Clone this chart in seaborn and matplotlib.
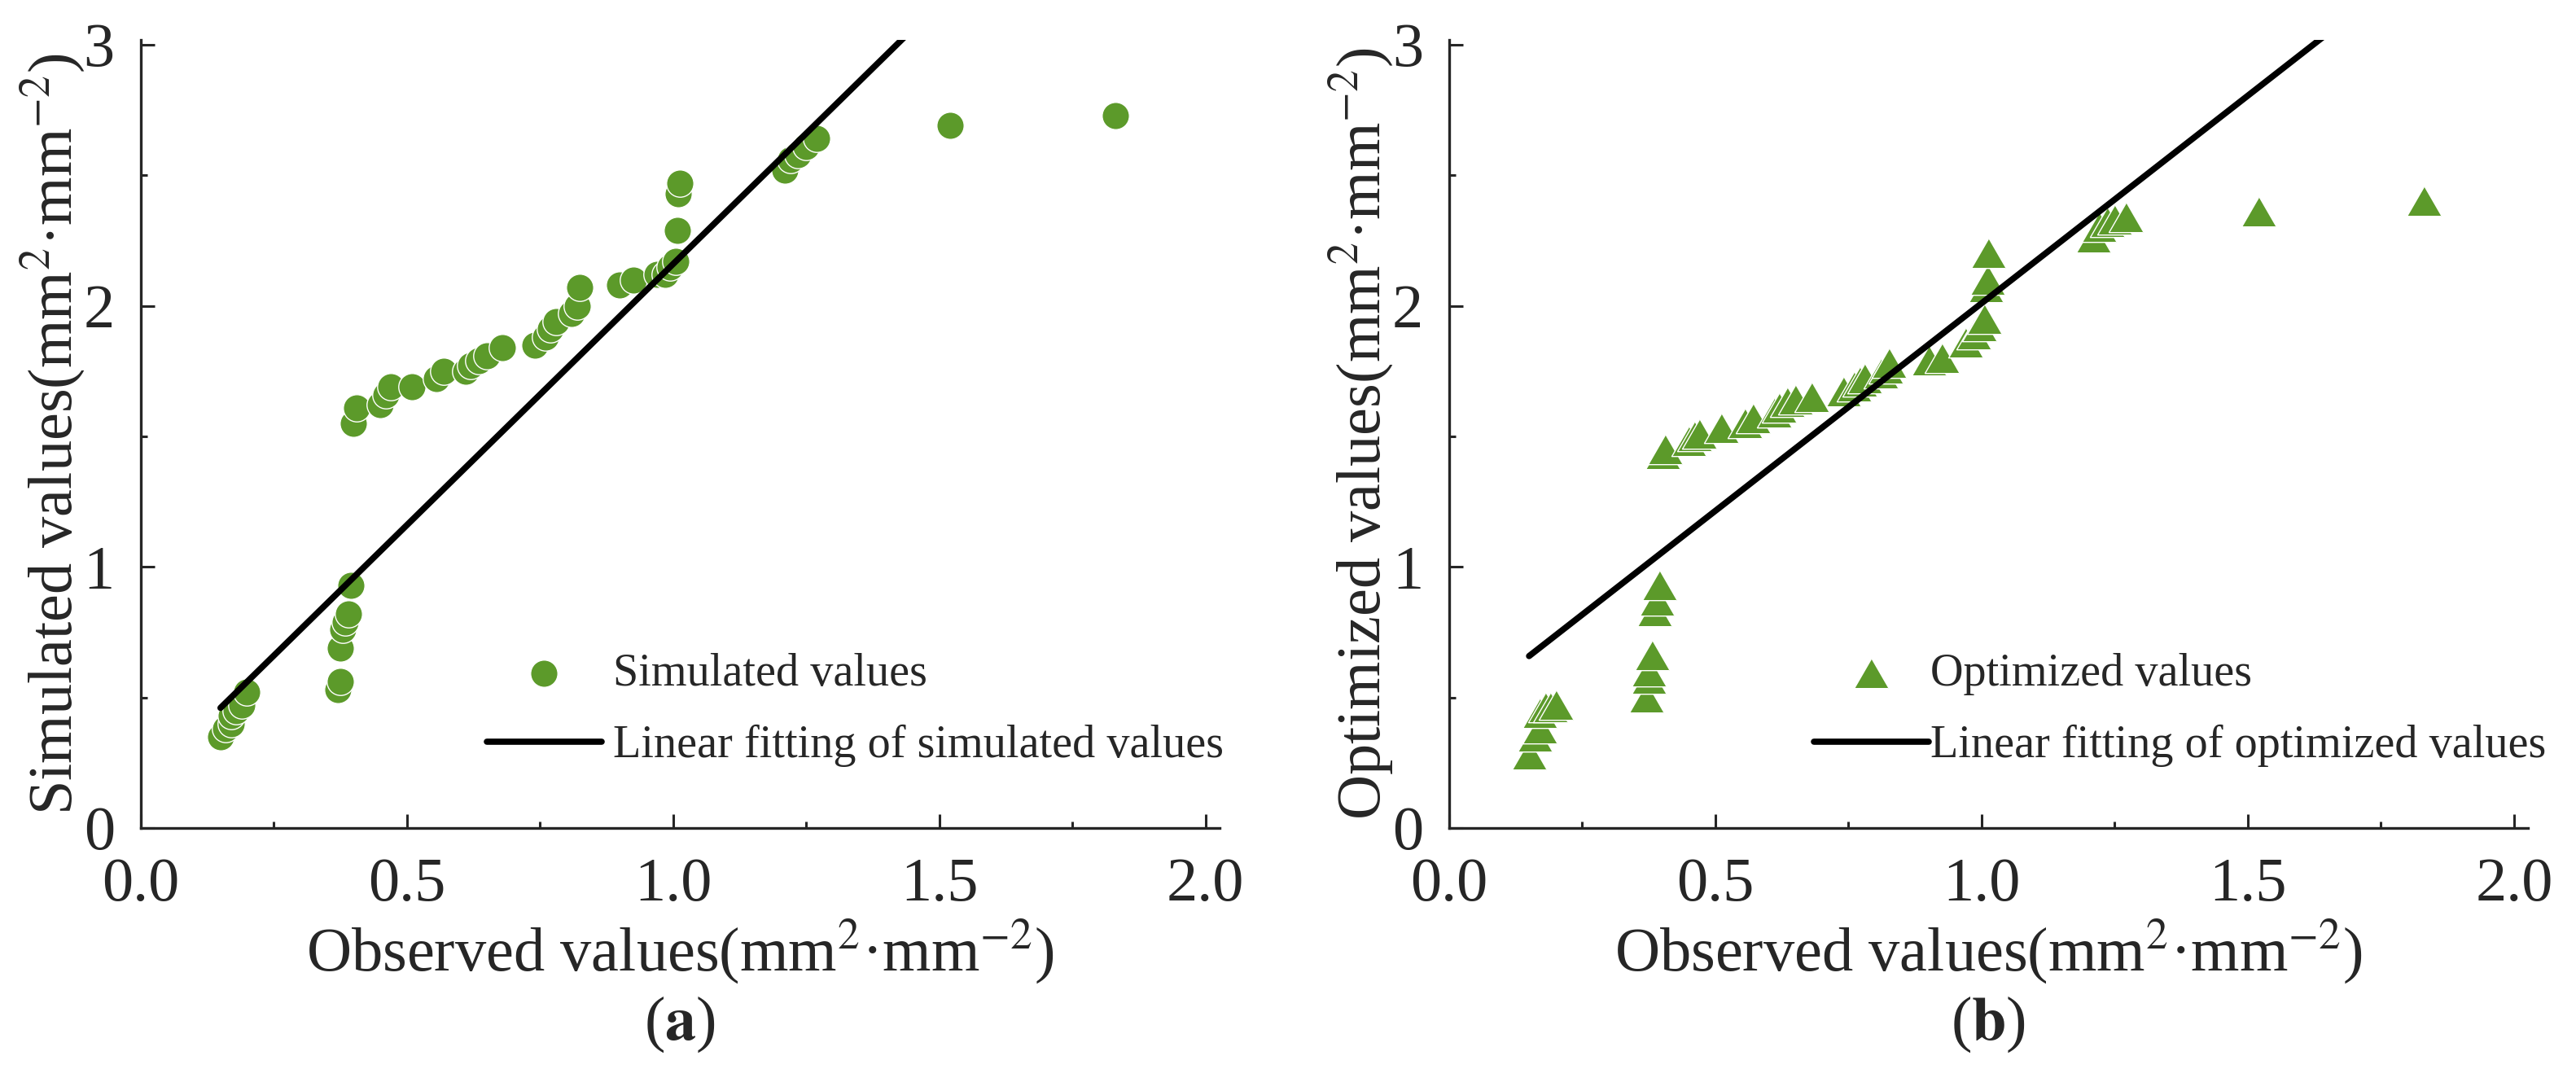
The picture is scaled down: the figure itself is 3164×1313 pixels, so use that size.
import matplotlib
matplotlib.use('Agg')
import matplotlib.pyplot as plt
from matplotlib.ticker import MultipleLocator, FormatStrFormatter
import numpy as np
import pandas as pd
import seaborn as sns

# observed values shared by both panels
observed = [0.15, 0.16, 0.17, 0.17, 0.18, 0.19, 0.20,
            0.37, 0.375, 0.375, 0.38, 0.385, 0.39, 0.395,
            0.40, 0.405, 0.45, 0.46, 0.47, 0.51, 0.555, 0.57, 0.61, 0.62, 0.635, 0.65, 0.68,
            0.74, 0.76, 0.77, 0.78, 0.81, 0.82, 0.825,
            0.90, 0.925, 0.97, 0.985, 0.995, 1.005, 1.008, 1.01, 1.012,
            1.21, 1.22, 1.235, 1.25, 1.27, 1.52, 1.83]

simulated = [0.35, 0.38, 0.40, 0.43, 0.45, 0.47, 0.52,
             0.53, 0.56, 0.69, 0.76, 0.79, 0.82, 0.93,
             1.55, 1.61, 1.62, 1.66, 1.69, 1.69, 1.72, 1.75, 1.75, 1.77, 1.79, 1.81, 1.84,
             1.85, 1.88, 1.91, 1.94, 1.97, 2.00, 2.07,
             2.08, 2.10, 2.12, 2.12, 2.15, 2.17, 2.29, 2.43, 2.47,
             2.52, 2.56, 2.58, 2.61, 2.64, 2.69, 2.73]

optimized = [0.28, 0.35, 0.38, 0.44, 0.46, 0.46, 0.47,
             0.50, 0.57, 0.60, 0.66, 0.83, 0.87, 0.93,
             1.43, 1.45, 1.48, 1.50, 1.51, 1.53, 1.55, 1.57, 1.59, 1.61, 1.63, 1.64, 1.65,
             1.67, 1.69, 1.71, 1.72, 1.74, 1.76, 1.78,
             1.79, 1.80, 1.86, 1.89, 1.92, 1.95, 2.07, 2.10, 2.20,
             2.26, 2.30, 2.32, 2.33, 2.34, 2.36, 2.40]

# linear fits (slope, intercept)
fit_sim = (2.00, 0.16)
fit_opt = (1.59, 0.42)

x_ticks = [0.0, 0.5, 1.0, 1.5, 2.0]
y_ticks = [0, 1, 2, 3]

df = pd.DataFrame({'obs': observed, 'sim': simulated, 'opt': optimized})

sns.set_style('ticks')
plt.rcParams['font.family'] = ['Liberation Serif', 'DejaVu Serif']
plt.rcParams['mathtext.fontset'] = 'stix'
plt.rcParams['axes.linewidth'] = 2.4

green = '#5c9a2a'
W, H = 3164, 1313
fig = plt.figure(figsize=(W / 100, H / 100), dpi=100)

ax_w = 1325 / W
ax_h = 968.5 / H
ax_y0 = 1 - 1017 / H
ax1 = fig.add_axes([172.7 / W, ax_y0, ax_w, ax_h])
ax2 = fig.add_axes([1780 / W, ax_y0, ax_w, ax_h])

tri = [(0, 0.75), (-0.866, -0.75), (0.866, -0.75)]

panels = [
    (ax1, 'sim', fit_sim, 'o', 580, 'Simulated values', 'Linear fitting of simulated values',
     'Simulated values(mm$^{2}$·mm$^{-2}$)', r'($\mathbf{a}$)', 598, 0.26),
    (ax2, 'opt', fit_opt, tri, 915, 'Optimized values', 'Linear fitting of optimized values',
     'Optimized values(mm$^{2}$·mm$^{-2}$)', r'($\mathbf{b}$)', 2228, 0.05),
]

for ax, col, fit, mk, size, lab_pts, lab_fit, ylab, tag, leg_x, tpad in panels:
    sns.scatterplot(data=df, x='obs', y=col, ax=ax, color=green, marker=mk, s=size,
                    edgecolor='white', linewidth=1.0, label=lab_pts, zorder=2)
    fx = np.array([min(observed), max(observed)])
    fit_df = pd.DataFrame({'x': fx, 'y': fit[0] * fx + fit[1]})
    sns.lineplot(data=fit_df, x='x', y='y', ax=ax, color='black', linewidth=5.5,
                 label=lab_fit, zorder=3)

    ax.set_xlim(0, 2.026)
    ax.set_ylim(0, 3.02)
    ax.set_xticks(x_ticks)
    ax.set_yticks(y_ticks)
    ax.xaxis.set_major_formatter(FormatStrFormatter('%.1f'))
    ax.xaxis.set_minor_locator(MultipleLocator(0.25))
    ax.yaxis.set_minor_locator(MultipleLocator(0.5))
    ax.tick_params(which='major', direction='in', length=12, width=2.2, labelsize=55)
    ax.tick_params(which='minor', direction='in', length=6, width=2.2)
    ax.tick_params(axis='x', which='major', pad=26)
    ax.tick_params(axis='y', which='major', pad=23)
    sns.despine(ax=ax)

    ax.set_xlabel('Observed values(mm$^{2}$·mm$^{-2}$)', fontsize=55, labelpad=3)
    ax.set_ylabel(ylab, fontsize=55, labelpad=-3)

    pos = ax.get_position()
    fig.text(pos.x0 + pos.width / 2, 1 - 1258 / H, tag, fontsize=55,
             ha='center', va='center')

    ax.legend(loc='center left', bbox_to_anchor=(leg_x / W, 1 - 872 / H),
              bbox_transform=fig.transFigure, frameon=False, fontsize=40.5,
              borderpad=0, borderaxespad=0, handlelength=2.5, handletextpad=tpad,
              labelspacing=0.65, scatterpoints=1)

fig.savefig('out.png', dpi=100)
